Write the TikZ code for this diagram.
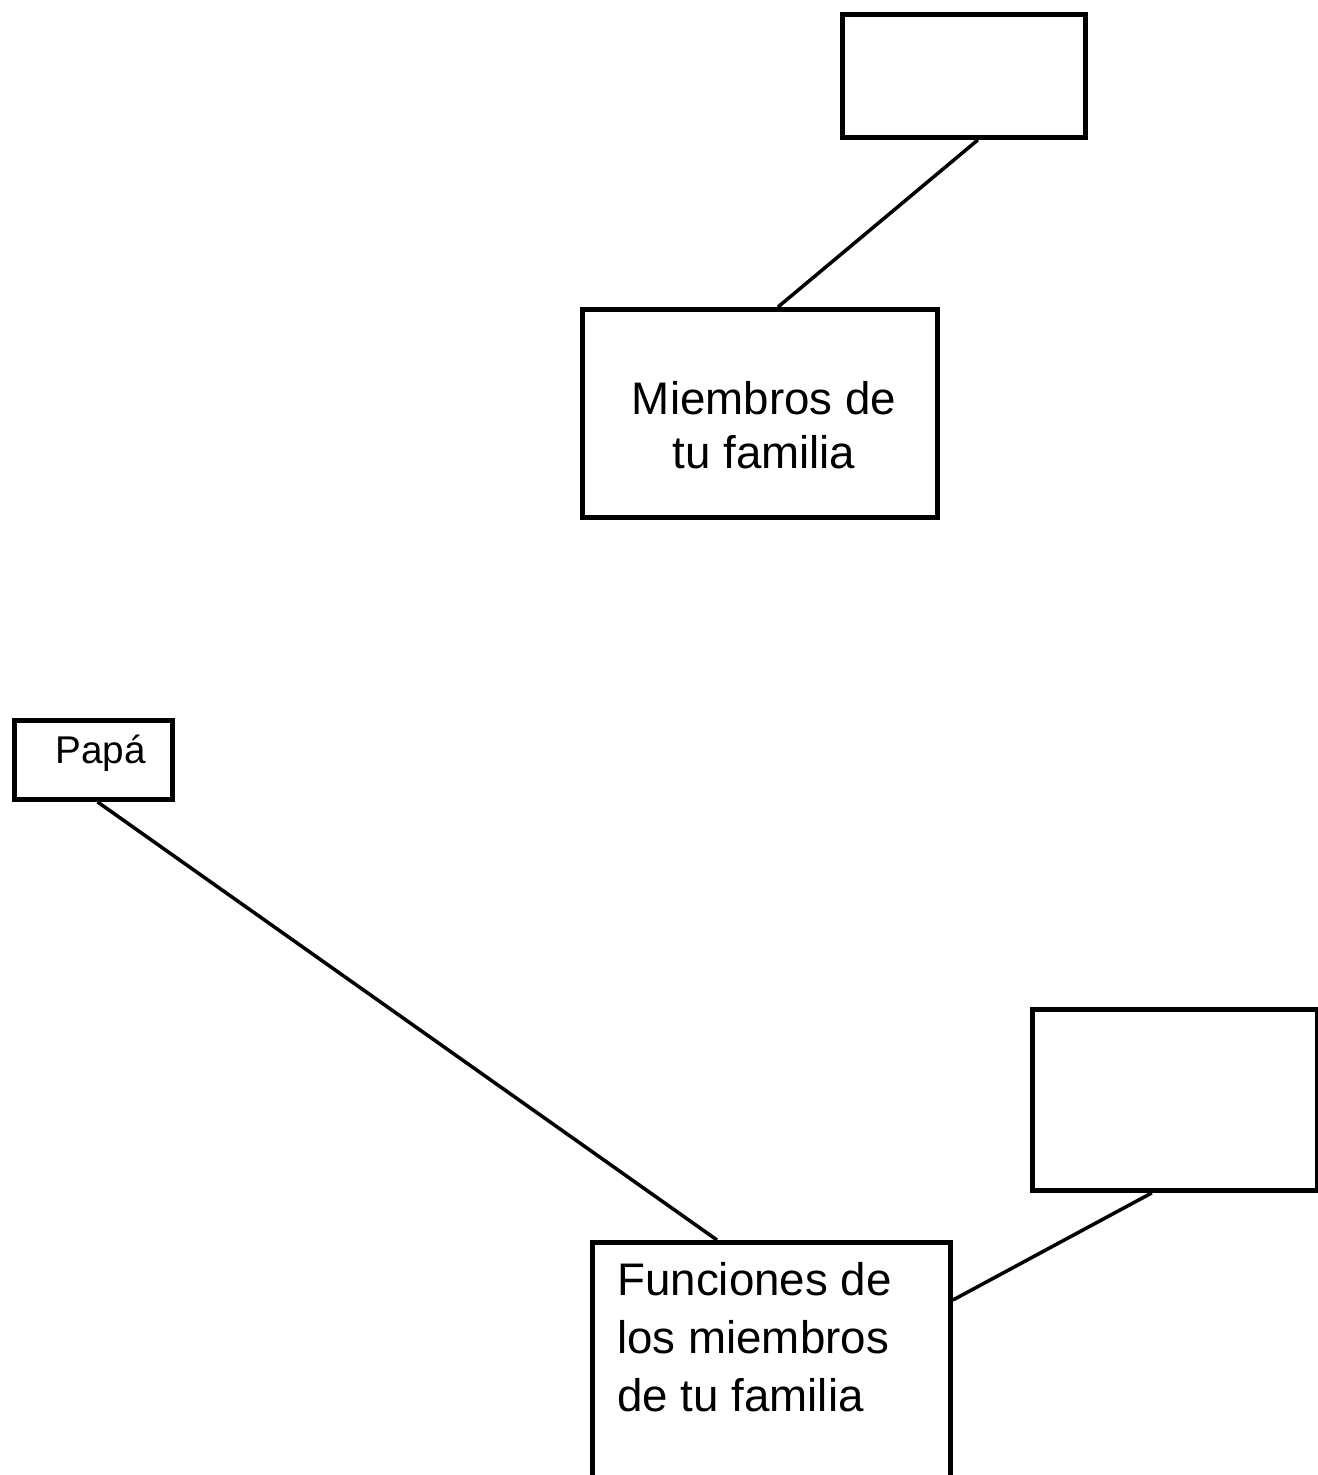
\documentclass[tikz,border=0pt]{standalone}
\usepackage{fontspec}
\setmainfont{Liberation Sans}
\usetikzlibrary{calc}
\begin{document}
\begin{tikzpicture}[x=0.02cm,y=-0.02cm,
  box/.style={draw,line width=2.8pt,inner sep=0pt,anchor=north west},
  link/.style={line width=2pt},
  lbl/.style={inner sep=0pt,font=\fontsize{26}{32}\selectfont}]
\useasboundingbox (0,0) rectangle (1318,1475);
\clip (0,0) rectangle (1318,1475);
% boxes
\node[box,minimum width=243*0.02cm,minimum height=123*0.02cm] (A) at (840,12) {};
\node[box,minimum width=355*0.02cm,minimum height=208*0.02cm] (B) at (580,307) {};
\node[box,minimum width=158*0.02cm,minimum height=79*0.02cm] (C) at (12,718) {};
\node[box,minimum width=285*0.02cm,minimum height=181*0.02cm] (D) at (1030,1007) {};
\node[box,minimum width=358*0.02cm,minimum height=300*0.02cm] (E) at (590,1240) {};
% texts
\node[lbl,align=center,anchor=north,font=\fontsize{26}{31}\selectfont] (tB) at (764,381) {Miembros de\\tu familia};
\node[lbl,anchor=base west,font=\fontsize{22}{26}\selectfont] (tC) at (55,763) {Papá};
\node[lbl,align=left,anchor=north west,font=\fontsize{26}{33}\selectfont] (tE) at (617,1262) {Funciones de\\los miembros\\de tu familia};
% connectors
\draw[link] ($(A.south west)!0.556!(A.south east)$) -- ($(B.north west)!0.55!(B.north east)$);
\draw[link] ($(C.south west)!0.525!(C.south east)$) -- ($(E.north west)!0.35!(E.north east)$);
\draw[link] ($(D.south west)!0.42!(D.south east)$) -- ($(E.north east)+(0,60)$);
\end{tikzpicture}
\end{document}
